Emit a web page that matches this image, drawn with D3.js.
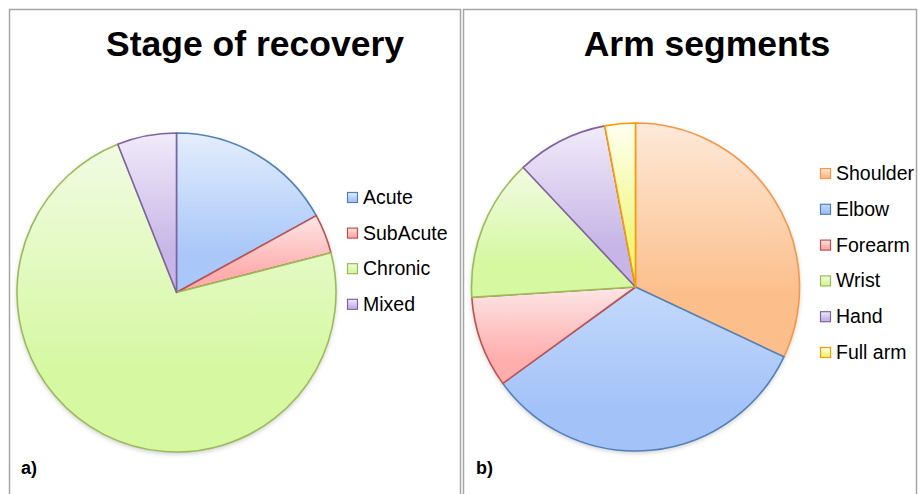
<!DOCTYPE html>
<html>
<head>
<meta charset="utf-8">
<script src="https://cdn.jsdelivr.net/npm/d3@7"></script>
<style>
  body { margin: 0; background: #fff; }
  svg { display: block; font-family: "Liberation Sans", Arial, Helvetica, sans-serif; }
</style>
</head>
<body>
<script>
// Panel a) stage of recovery (percent of studies)
var stageLabels = ["Acute", "SubAcute", "Chronic", "Mixed"];
var stageValues = [17, 4, 73, 6];

// Panel b) arm segments (percent of studies)
var armLabels = ["Shoulder", "Elbow", "Forearm", "Wrist", "Hand", "Full arm"];
var armValues = [32, 33, 9, 14, 9, 3];

// colour per label: [light top, saturated bottom, outline]
var palette = {
  Acute:     ["#e4eefd", "#a9c7f8", "#4f81bd"],
  SubAcute:  ["#fde6e6", "#ffadad", "#c0504d"],
  Chronic:   ["#f1fbe3", "#d5f8a0", "#9bbb59"],
  Mixed:     ["#f1ebf9", "#c6b5e6", "#8064a2"],
  Shoulder:  ["#fde9d9", "#fcbe8a", "#f79646"],
  Elbow:     ["#c4d9fb", "#a3c2f8", "#4f81bd"],
  Forearm:   ["#fde6e6", "#ffadad", "#c0504d"],
  Wrist:     ["#f1fbe3", "#d5f8a0", "#9bbb59"],
  Hand:      ["#f1ebf9", "#c6b5e6", "#8064a2"],
  "Full arm":["#fffff2", "#eef77a", "#ff9900"]
};

var width = 919, height = 494;

var svg = d3.select("body").append("svg")
    .attr("width", width)
    .attr("height", height);

var defs = svg.append("defs");

// one vertical gradient per label, light at the top of each slice
Object.keys(palette).forEach(function(key, i) {
  var g = defs.append("linearGradient")
      .attr("id", "grad" + i)
      .attr("x1", 0).attr("y1", 0).attr("x2", 0).attr("y2", 1);
  g.append("stop").attr("offset", "0%").attr("stop-color", palette[key][0]);
  g.append("stop").attr("offset", "75%").attr("stop-color", palette[key][1]);
  palette[key].push("url(#grad" + i + ")");
});

// soft shadow under the pies
var shadow = defs.append("filter").attr("id", "shadow")
    .attr("x", "-10%").attr("y", "-10%").attr("width", "120%").attr("height", "125%");
shadow.append("feDropShadow")
    .attr("dx", 0).attr("dy", 2).attr("stdDeviation", 2.5)
    .attr("flood-color", "#000").attr("flood-opacity", 0.22);

// panel frames
[[9, 451], [463, 453]].forEach(function(p) {
  svg.append("rect")
      .attr("x", p[0] + 0.5).attr("y", 9.5)
      .attr("width", p[1]).attr("height", 500)
      .attr("fill", "none")
      .attr("stroke", "#a6a6a6")
      .attr("stroke-width", 1.5);
});

function drawPanel(opts) {
  var g = svg.append("g");

  g.append("text")
      .attr("x", opts.titleX)
      .attr("y", 56)
      .attr("text-anchor", "middle")
      .style("font-size", "35.5px")
      .style("font-weight", "bold")
      .text(opts.title);

  var pie = d3.pie().sort(null).value(function(d) { return d.value; });
  var arc = d3.arc().innerRadius(0).outerRadius(opts.r);

  var data = opts.labels.map(function(l, i) { return {label: l, value: opts.values[i]}; });

  var pieG = g.append("g")
      .attr("transform", "translate(" + opts.cx + "," + opts.cy + ")");

  pieG.append("circle")
      .attr("r", opts.r)
      .attr("fill", "#fff")
      .attr("filter", "url(#shadow)");

  pieG.selectAll("path")
      .data(pie(data))
      .enter()
      .append("path")
      .attr("d", arc)
      .attr("fill", function(d) { return palette[d.data.label][3]; })
      .attr("stroke", function(d) { return palette[d.data.label][2]; })
      .attr("stroke-width", 1.6)
      .attr("stroke-linejoin", "round");

  // legend
  var legend = g.selectAll(".legend")
      .data(opts.labels)
      .enter()
      .append("g")
      .attr("transform", function(d, i) {
        return "translate(" + opts.legendX + "," + (opts.legendY + i * opts.legendStep) + ")";
      });

  legend.append("rect")
      .attr("x", 0.5).attr("y", -11.5)
      .attr("width", 10).attr("height", 10)
      .attr("fill", function(d) { return palette[d][3]; })
      .attr("stroke", function(d) { return palette[d][2]; })
      .attr("stroke-width", 1.2);

  legend.append("text")
      .attr("x", 16)
      .attr("y", 0)
      .style("font-size", "19.5px")
      .text(function(d) { return d; });

  g.append("text")
      .attr("x", opts.tagX)
      .attr("y", 474)
      .style("font-size", "18px")
      .style("font-weight", "bold")
      .text(opts.tag);
}

drawPanel({
  title: "Stage of recovery", titleX: 255,
  labels: stageLabels, values: stageValues,
  cx: 176.5, cy: 292.5, r: 159.5,
  legendX: 347, legendY: 204, legendStep: 35.6,
  tag: "a)", tagX: 21
});

drawPanel({
  title: "Arm segments", titleX: 707,
  labels: armLabels, values: armValues,
  cx: 635.5, cy: 287, r: 164,
  legendX: 820, legendY: 180, legendStep: 35.8,
  tag: "b)", tagX: 476
});
</script>
</body>
</html>
